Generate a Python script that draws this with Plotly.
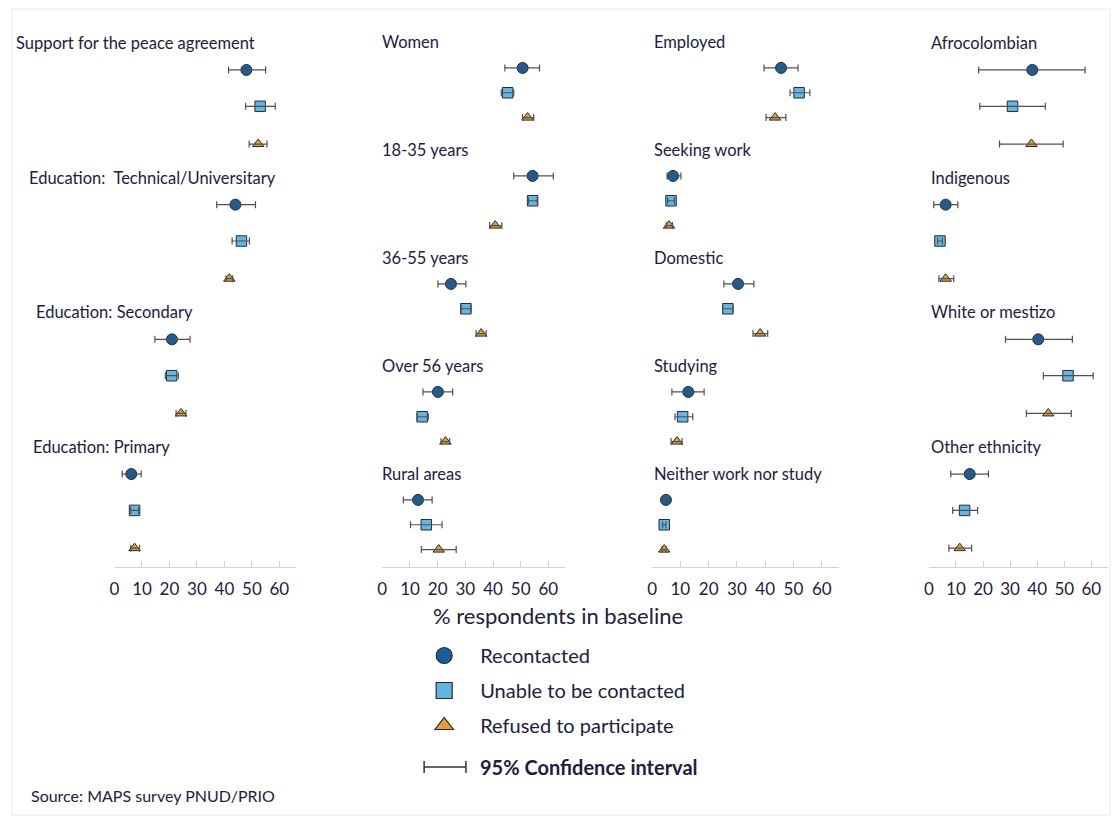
import plotly.graph_objects as go

# ---------------------------------------------------------------- data
statuses = ["Recontacted", "Unable to be contacted", "Refused to participate"]

p1_groups = ["Support for the peace agreement", "Education:  Technical/Universitary",
             "Education: Secondary", "Education: Primary"]
p1_est = [[48.0, 44.0, 20.9, 6.1],
          [53.0, 46.2, 20.8, 7.3],
          [52.3, 41.8, 24.2, 7.3]]
p1_lo = [[41.5, 37.2, 14.7, 2.8],
         [47.7, 42.8, 18.5, 5.9],
         [49.0, 40.6, 22.4, 5.9]]
p1_hi = [[55.0, 51.3, 27.5, 9.7],
         [58.5, 49.1, 23.2, 8.8],
         [55.5, 43.0, 26.0, 9.1]]

p2_groups = ["Women", "18-35 years", "36-55 years", "Over 56 years", "Rural areas"]
p2_est = [[50.7, 54.3, 24.8, 20.1, 12.9],
          [45.3, 54.3, 30.2, 14.4, 15.9],
          [52.5, 40.8, 35.7, 22.8, 20.4]]
p2_lo = [[44.3, 47.5, 20.1, 14.7, 7.6],
         [43.0, 52.8, 28.5, 12.6, 10.2],
         [50.7, 38.8, 33.9, 21.2, 14.1]]
p2_hi = [[56.8, 61.8, 30.2, 25.4, 18.0],
         [47.5, 56.0, 32.0, 16.6, 21.6],
         [54.7, 43.2, 37.5, 24.3, 26.7]]

p3_groups = ["Employed", "Seeking work", "Domestic", "Studying", "Neither work nor study"]
p3_est = [[45.6, 7.4, 30.4, 12.8, 4.9],
          [52.0, 6.7, 26.8, 10.8, 4.3],
          [43.5, 6.0, 38.2, 8.8, 4.3]]
p3_lo = [[39.6, 5.3, 25.4, 7.0, 4.2],
         [48.8, 5.5, 25.0, 8.1, 3.7],
         [40.3, 5.0, 35.7, 6.7, 3.5]]
p3_hi = [[51.6, 10.2, 36.0, 18.4, 5.6],
         [55.8, 7.9, 28.6, 14.4, 4.9],
         [47.3, 7.2, 40.9, 10.6, 5.0]]

p4_groups = ["Afrocolombian", "Indigenous", "White or mestizo", "Other ethnicity"]
p4_est = [[38.2, 6.2, 40.4, 15.1],
          [30.9, 4.1, 51.4, 13.2],
          [37.9, 6.2, 44.1, 11.4]]
p4_lo = [[18.4, 1.8, 28.3, 8.1],
         [18.8, 3.3, 42.3, 8.8],
         [26.1, 3.7, 36.0, 7.4]]
p4_hi = [[57.7, 10.7, 53.0, 22.0],
         [43.0, 5.0, 60.7, 18.0],
         [49.6, 9.2, 52.6, 15.8]]

x_ticks = [0, 10, 20, 30, 40, 50, 60]

# ---------------------------------------------------------------- style
W, H = 1119, 823
TEXT = "#1c2040"
FONT = "Lato"
AXIS_GREY = "#cdd3d6"
ERR_GREY = "#505050"
fills = ["#175f9c", "#62b6e3", "#dfa232"]
symbols = ["circle", "square", "triangle-up"]
sizes = [11, 10.5, 10]
XMAX = 66
AXIS_PX, TOP_PX = 567, 30

panels = [
    dict(groups=p1_groups, est=p1_est, lo=p1_lo, hi=p1_hi, x0=110, scale=2.76,
         label_x=[9, 22, 29, 26], first=43, pitch=134.7, offsets=[0.20, 0.47, 0.75]),
    dict(groups=p2_groups, est=p2_est, lo=p2_lo, hi=p2_hi, x0=379, scale=2.78,
         label_x=[377] * 5, first=42, pitch=108.0, offsets=[0.24, 0.47, 0.70]),
    dict(groups=p3_groups, est=p3_est, lo=p3_lo, hi=p3_hi, x0=650, scale=2.84,
         label_x=[650] * 5, first=42, pitch=108.0, offsets=[0.24, 0.47, 0.70]),
    dict(groups=p4_groups, est=p4_est, lo=p4_lo, hi=p4_hi, x0=928, scale=2.72,
         label_x=[928] * 4, first=43, pitch=134.7, offsets=[0.20, 0.47, 0.75]),
]

fig = go.Figure()
annotations = []
layout_axes = {}

for i, p in enumerate(panels, start=1):
    xa, ya = f"x{i}", f"y{i}"
    n = len(p["groups"])
    for s in range(3):
        est = p["est"][s]
        ys = [g + p["offsets"][s] for g in range(n)]
        fig.add_trace(go.Scatter(
            x=est, y=ys, xaxis=xa, yaxis=ya,
            mode="markers", showlegend=False, name=statuses[s],
            marker=dict(symbol=symbols[s], size=sizes[s], color=fills[s],
                        line=dict(color="#2b2b2b", width=1)),
        ))
        # confidence interval drawn over the marker
        fig.add_trace(go.Scatter(
            x=est, y=ys, xaxis=xa, yaxis=ya,
            mode="markers", showlegend=False, hoverinfo="skip",
            marker=dict(size=1, opacity=0),
            error_x=dict(type="data", symmetric=False,
                         array=[h - e for h, e in zip(p["hi"][s], est)],
                         arrayminus=[e - l for e, l in zip(est, p["lo"][s])],
                         color=ERR_GREY, thickness=1.2, width=3.5),
        ))
    # group headings
    for g, (label, lx) in enumerate(zip(p["groups"], p["label_x"])):
        annotations.append(dict(
            text=label, xref="paper", yref=ya, x=lx / W, y=g,
            xanchor="left", yanchor="middle", showarrow=False,
            font=dict(family=FONT, size=16.5, color=TEXT)))

    suffix = "" if i == 1 else str(i)
    layout_axes["xaxis" + suffix] = dict(
        domain=[p["x0"] / W, (p["x0"] + XMAX * p["scale"]) / W],
        range=[0, XMAX], anchor=ya, tickvals=x_ticks,
        showline=True, linecolor=AXIS_GREY, linewidth=1.2,
        ticks="inside", ticklen=6, tickcolor=AXIS_GREY, tickwidth=1.2,
        ticklabelstandoff=6,
        showgrid=False, zeroline=False,
        tickfont=dict(family=FONT, size=17, color=TEXT), fixedrange=True)
    layout_axes["yaxis" + suffix] = dict(
        domain=[1 - AXIS_PX / H, 1 - TOP_PX / H],
        range=[(AXIS_PX - p["first"]) / p["pitch"], (TOP_PX - p["first"]) / p["pitch"]],
        anchor=xa, visible=False, fixedrange=True)

# legend entries
for s in range(3):
    fig.add_trace(go.Scatter(
        x=[None], y=[None], mode="markers", name=statuses[s], legendgroup=statuses[s],
        marker=dict(symbol=symbols[s], size=16, color=fills[s],
                    line=dict(color="#2b2b2b", width=1.2))))

# axis title
annotations.append(dict(text="% respondents in baseline", xref="paper", yref="paper",
                        x=555 / W, y=1 - 615 / H, xanchor="center", yanchor="middle",
                        showarrow=False, font=dict(family=FONT, size=22, color=TEXT)))

# confidence-interval key
ci_y = 1 - 767 / H
cap = 6 / H
shapes = [
    dict(type="line", xref="paper", yref="paper", x0=421 / W, x1=463 / W, y0=ci_y, y1=ci_y,
         line=dict(color="#333333", width=1.5)),
    dict(type="line", xref="paper", yref="paper", x0=421 / W, x1=421 / W, y0=ci_y - cap, y1=ci_y + cap,
         line=dict(color="#333333", width=1.5)),
    dict(type="line", xref="paper", yref="paper", x0=463 / W, x1=463 / W, y0=ci_y - cap, y1=ci_y + cap,
         line=dict(color="#333333", width=1.5)),
    dict(type="rect", xref="paper", yref="paper", x0=7 / W, x1=1110 / W, y0=1 - 815 / H, y1=1 - 9 / H,
         line=dict(color="#ececec", width=1)),
]
annotations.append(dict(text="<b>95% Confidence interval</b>", xref="paper", yref="paper",
                        x=475 / W, y=ci_y, xanchor="left", yanchor="middle", showarrow=False,
                        font=dict(family=FONT, size=20, color=TEXT)))

# source note
annotations.append(dict(text="Source: MAPS survey PNUD/PRIO", xref="paper", yref="paper",
                        x=24 / W, y=1 - 795 / H, xanchor="left", yanchor="middle",
                        showarrow=False, font=dict(family=FONT, size=16, color=TEXT)))

fig.update_layout(
    width=W, height=H,
    margin=dict(l=0, r=0, t=0, b=0),
    paper_bgcolor="white", plot_bgcolor="white",
    showlegend=True,
    legend=dict(x=405 / W, y=1 - 636 / H, xanchor="left", yanchor="top",
                font=dict(family=FONT, size=20, color=TEXT),
                itemsizing="trace", itemwidth=62, bgcolor="rgba(0,0,0,0)",
                tracegroupgap=6),
    annotations=annotations,
    shapes=shapes,
    **layout_axes,
)

fig.write_html("out.html")
